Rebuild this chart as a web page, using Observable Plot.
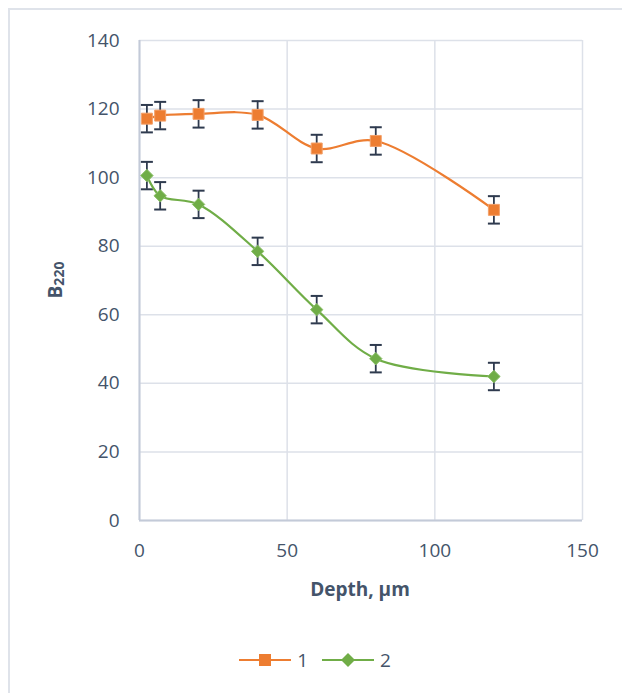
<!DOCTYPE html>
<html>
<head>
<meta charset="utf-8">
<script src="https://cdn.jsdelivr.net/npm/d3@7"></script>
<script src="https://cdn.jsdelivr.net/npm/@observablehq/plot@0.6"></script>
<style>
  html, body { margin: 0; padding: 0; background: #fff; overflow: hidden; }
  #wrap { position: relative; width: 622px; height: 693px; font-family: "Open Sans", sans-serif; color: #44546a; }
  #frame { position: absolute; left: 8px; top: 8px; width: 700px; height: 800px; border-left: 2px solid #dfe3ea; border-top: 2px solid #dfe3ea; }
  #chart { position: absolute; left: 0; top: 0; }
  #legend { position: absolute; left: 0; top: 647px; width: 622px; display: flex; justify-content: center; align-items: center; font-size: 19px; gap: 6px; }
  #legend .item { display: flex; align-items: center; gap: 6px; margin-left: 8px; }
</style>
</head>
<body>
<div id="wrap">
  <div id="frame"></div>
  <div id="chart"></div>
  <div id="legend"></div>
</div>
<script>
const depth = [2.5, 7, 20, 40, 60, 80, 120];
const series1 = [117.2, 118.1, 118.6, 118.3, 108.5, 110.7, 90.6];
const series2 = [100.6, 94.7, 92.2, 78.5, 61.5, 47.2, 42.0];
const err1 = [4, 4, 4, 4, 4, 4, 4];
const err2 = [4, 4, 4, 4, 4, 4, 4];
const seriesNames = ["1", "2"];
const xTicks = [0, 50, 100, 150];
const yTicks = [0, 20, 40, 60, 80, 100, 120, 140];
const colors = ["#ed7d31", "#70ad47"];
const errColor = "#2e3a4e";

const data1 = depth.map((x, i) => ({x, y: series1[i], e: err1[i]}));
const data2 = depth.map((x, i) => ({x, y: series2[i], e: err2[i]}));

const cap = {draw(ctx) { ctx.moveTo(-6, 0); ctx.lineTo(6, 0); }};

function errMarks(data) {
  return [
    Plot.ruleX(data, {x: "x", y1: d => d.y - d.e, y2: d => d.y + d.e, stroke: errColor, strokeWidth: 1.8}),
    Plot.dot(data, {x: "x", y: d => d.y - d.e, symbol: cap, stroke: errColor, strokeWidth: 2, fill: "none"}),
    Plot.dot(data, {x: "x", y: d => d.y + d.e, symbol: cap, stroke: errColor, strokeWidth: 2, fill: "none"})
  ];
}

const chart = Plot.plot({
  width: 622,
  height: 610,
  marginLeft: 139,
  marginRight: 40,
  marginTop: 40,
  marginBottom: 90,
  style: {fontFamily: "Open Sans, sans-serif", fontSize: "19px", color: "#44546a", background: "transparent"},
  x: {domain: [0, 150], ticks: xTicks, tickSize: 0, tickPadding: 23, label: null},
  y: {domain: [0, 140], ticks: yTicks, tickSize: 0, tickPadding: 20, label: null},
  marks: [
    Plot.gridY(yTicks, {stroke: "#dde1e9", strokeOpacity: 1, strokeWidth: 1.5}),
    Plot.gridX(xTicks, {stroke: "#dde1e9", strokeOpacity: 1, strokeWidth: 1.5}),
    Plot.ruleX([0], {stroke: "#c3cad8", strokeWidth: 2}),
    Plot.ruleY([0], {stroke: "#c3cad8", strokeWidth: 2}),
    ...errMarks(data1),
    ...errMarks(data2),
    Plot.line(data1, {x: "x", y: "y", curve: "catmull-rom", stroke: colors[0], strokeWidth: 2.2}),
    Plot.line(data2, {x: "x", y: "y", curve: "catmull-rom", stroke: colors[1], strokeWidth: 2.2}),
    Plot.dot(data1, {x: "x", y: "y", symbol: "square", r: 6.2, fill: colors[0], stroke: "#f3a069", strokeWidth: 1}),
    Plot.dot(data2, {x: "x", y: "y", symbol: "diamond2", r: 5.6, fill: colors[1], stroke: "#8cc06a", strokeWidth: 1})
  ]
});

const svg = d3.select(chart);
svg.append("text")
  .attr("x", 360).attr("y", 596)
  .attr("text-anchor", "middle")
  .attr("font-weight", "bold").attr("font-size", "19px")
  .attr("fill", "#44546a")
  .text("Depth, μm");
const yl = svg.append("text")
  .attr("transform", "translate(62,280) rotate(-90)")
  .attr("text-anchor", "middle")
  .attr("font-weight", "bold").attr("font-size", "19px")
  .attr("fill", "#44546a");
yl.append("tspan").text("B");
yl.append("tspan").attr("font-size", "14px").attr("dy", "2").text("220");

document.getElementById("chart").appendChild(chart);

const legend = document.getElementById("legend");
seriesNames.forEach((name, i) => {
  const item = document.createElement("div");
  item.className = "item";
  const marker = i === 0
    ? `<rect x="20" y="4" width="12" height="12" fill="${colors[0]}"/>`
    : `<path d="M26 3 L33 10 L26 17 L19 10 Z" fill="${colors[1]}"/>`;
  item.innerHTML = `<svg width="52" height="20"><line x1="0" y1="10" x2="52" y2="10" stroke="${colors[i]}" stroke-width="2.2"/>${marker}</svg><span>${name}</span>`;
  legend.appendChild(item);
});
</script>
</body>
</html>
